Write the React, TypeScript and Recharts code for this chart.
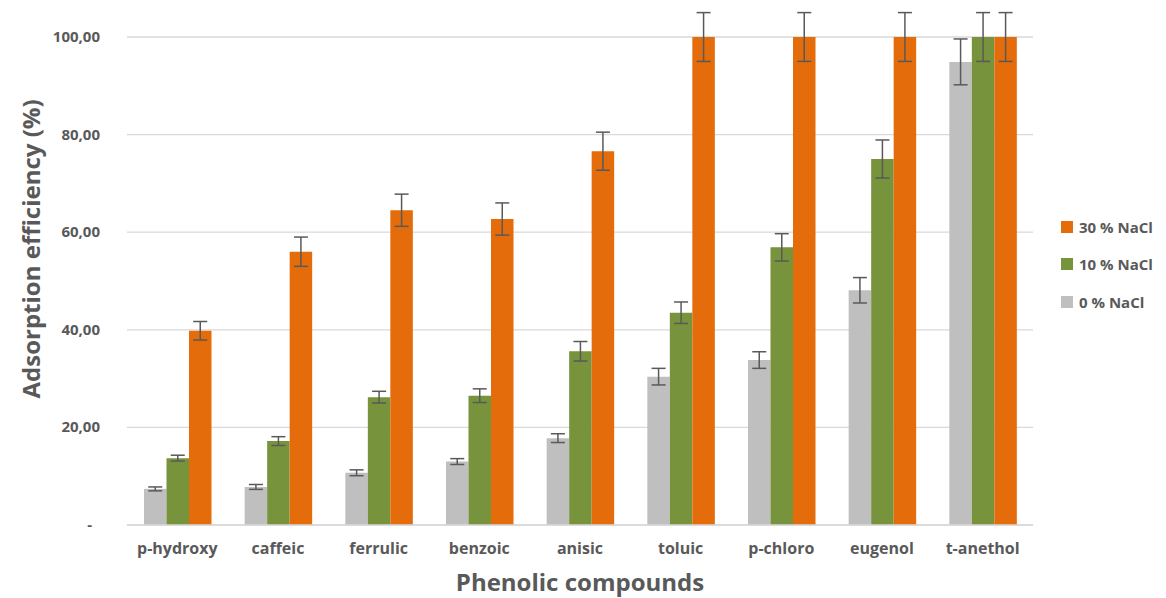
import React from "react";
import { Bar, BarChart, CartesianGrid, ErrorBar, Label, XAxis, YAxis } from "recharts";

const compounds = ["p-hydroxy", "caffeic", "ferrulic", "benzoic", "anisic", "toluic", "p-chloro", "eugenol", "t-anethol"];
const nacl0 = [7.4, 7.8, 10.7, 13.0, 17.8, 30.4, 33.8, 48.1, 94.9];
const nacl10 = [13.7, 17.2, 26.2, 26.5, 35.6, 43.5, 56.9, 75.0, 100];
const nacl30 = [39.8, 56.0, 64.5, 62.7, 76.6, 100, 100, 100, 100];
const err0 = [0.4, 0.5, 0.6, 0.6, 0.9, 1.7, 1.7, 2.6, 4.7];
const err10 = [0.6, 0.9, 1.2, 1.4, 2.0, 2.2, 2.8, 3.9, 5.0];
const err30 = [1.9, 3.0, 3.3, 3.3, 3.9, 5.0, 5.0, 5.0, 5.0];
const yTicks = [0, 20, 40, 60, 80, 100];

const series = [
  { key: "n0", err: "e0", name: "0 % NaCl", color: "#BFBFBF" },
  { key: "n10", err: "e10", name: "10 % NaCl", color: "#77933C" },
  { key: "n30", err: "e30", name: "30 % NaCl", color: "#E46C0A" },
];

const data = compounds.map((name, i) => ({
  name,
  n0: nacl0[i],
  n10: nacl10[i],
  n30: nacl30[i],
  e0: err0[i],
  e10: err10[i],
  e30: err30[i],
}));

const FONT = "'Open Sans', sans-serif";
const TEXT = "#595959";

function YTick(props: any) {
  const { x, y, payload } = props;
  const v = payload.value as number;
  const label = v === 0 ? "-" : v.toFixed(2).replace(".", ",");
  return (
    <text x={v === 0 ? x - 27 : x - 19} y={y} dy={5} textAnchor="end" fill={TEXT} fontSize={15} fontWeight={700} fontFamily={FONT}>
      {label}
    </text>
  );
}

export default function App() {
  return (
    <div style={{ position: "absolute", left: 0, top: 0, width: 1166, height: 598, background: "#fff", fontFamily: FONT }}>
      <BarChart
        width={1166}
        height={598}
        data={data}
        margin={{ top: 12.6, right: 133, bottom: 0, left: 0 }}
        barGap={0}
        barSize={22.5}
      >
        <CartesianGrid vertical={false} horizontalValues={yTicks} stroke="#D9D9D9" strokeWidth={1.3} />
        <XAxis
          dataKey="name"
          height={73}
          axisLine={{ stroke: "#D9D9D9", strokeWidth: 1.3 }}
          tickLine={false}
          tickMargin={12}
          tick={{ fill: TEXT, fontSize: 16, fontWeight: 700, fontFamily: FONT }}
        >
          <Label
            value="Phenolic compounds"
            position="insideBottom"
            offset={7}
            style={{ fill: TEXT, fontSize: 24, fontWeight: 700, fontFamily: FONT }}
          />
        </XAxis>
        <YAxis
          width={127}
          domain={[0, 105]}
          ticks={yTicks}
          axisLine={false}
          tickLine={false}
          tick={<YTick />}
          interval={0}
        >
          <Label
            content={() => (
              <text
                x={30}
                y={249}
                transform="rotate(-90, 30, 249)"
                textAnchor="middle"
                dominantBaseline="central"
                fill={TEXT}
                fontSize={24}
                fontWeight={700}
                fontFamily={FONT}
              >
                Adsorption efficiency (%)
              </text>
            )}
          />
        </YAxis>
        {series.map((s) => (
          <Bar key={s.key} dataKey={s.key} name={s.name} fill={s.color} isAnimationActive={false}>
            <ErrorBar dataKey={s.err} width={7} stroke="#595959" strokeWidth={1.5} direction="y" />
          </Bar>
        ))}
      </BarChart>
      <div style={{ position: "absolute", left: 1061, top: 208 }}>
        {[...series].reverse().map((s) => (
          <div key={s.key} style={{ display: "flex", alignItems: "center", height: 37.5 }}>
            <span style={{ width: 12, height: 12, background: s.color, display: "inline-block", marginRight: 6 }} />
            <span style={{ color: TEXT, fontSize: 15, fontWeight: 700 }}>{s.name}</span>
          </div>
        ))}
      </div>
    </div>
  );
}
